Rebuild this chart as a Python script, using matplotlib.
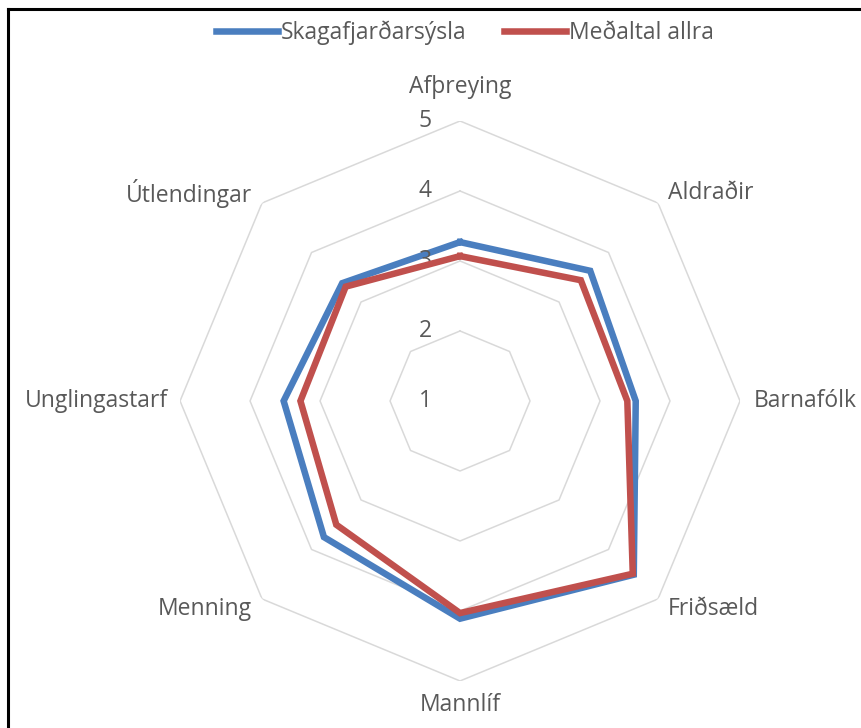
import numpy as np
import matplotlib.pyplot as plt
from matplotlib.lines import Line2D

categories = ["Afþreying", "Aldraðir", "Barnafólk", "Friðsæld",
              "Mannlíf", "Menning", "Unglingastarf", "Útlendingar"]
skagafjordur = [3.27, 3.63, 3.51, 4.51, 4.11, 3.75, 3.52, 3.38]
medaltal = [3.07, 3.44, 3.39, 4.49, 4.03, 3.50, 3.28, 3.31]
series_names = ["Skagafjarðarsýsla", "Meðaltal allra"]
levels = [1, 2, 3, 4, 5]

BLUE = "#4a7ebf"
RED = "#c0504d"
GRID = "#d9d9d9"
TEXT = "#595959"
FS = 16.5

plt.rcParams['font.family'] = ['Open Sans', 'DejaVu Sans']

fig = plt.figure(figsize=(8.61, 7.28), dpi=100)
ax = fig.add_axes([0.2091, 0.0646, 0.6504, 0.7692], projection="polar")
ax.set_theta_offset(np.pi / 2)
ax.set_theta_direction(-1)
ax.set_ylim(1, 5)
ax.grid(False)
ax.spines["polar"].set_visible(False)
ax.set_xticks([])
ax.set_yticks([])

n = len(categories)
theta = np.linspace(0, 2 * np.pi, n, endpoint=False)
theta_closed = np.append(theta, theta[0])

# octagon gridlines
for lv in levels[1:]:
    ax.plot(theta_closed, [lv] * (n + 1), color=GRID, lw=1.1, zorder=1)

# series
ax.plot(theta_closed, skagafjordur + skagafjordur[:1], color=BLUE, lw=4.7,
        solid_joinstyle="miter", zorder=3)
ax.plot(theta_closed, medaltal + medaltal[:1], color=RED, lw=4.7,
        solid_joinstyle="miter", zorder=4)

# value labels on the top axis
for lv in levels:
    ax.annotate(str(lv), xy=(0, lv), xytext=(-25, 0), textcoords="offset points",
                ha="center", va="center", fontsize=FS, color=TEXT)

# category labels
label_pos = {
    "Afþreying": (5.49, "center", "center"),
    "Aldraðir": (5.21, "left", "center"),
    "Barnafólk": (5.19, "left", "center"),
    "Friðsæld": (5.2, "left", "center"),
    "Mannlíf": (5.34, "center", "center"),
    "Menning": (5.2, "right", "center"),
    "Unglingastarf": (5.17, "right", "center"),
    "Útlendingar": (5.2, "right", "center"),
}
for t, cat in zip(theta, categories):
    r, ha, va = label_pos[cat]
    ax.text(t, r, cat, ha=ha, va=va, fontsize=FS, color=TEXT, clip_on=False)

handles = [Line2D([], [], color=BLUE, lw=4.7), Line2D([], [], color=RED, lw=4.7)]
fig.legend(handles, series_names, loc="center", bbox_to_anchor=(0.54, 0.955),
           ncol=2, frameon=False, fontsize=FS, labelcolor=TEXT,
           handlelength=2.7, handletextpad=0.13, columnspacing=1.65)

# frame lines at left and top
fig.add_artist(Line2D([8 / 861, 8 / 861], [0, 1 - 9 / 728], color="black", lw=2.2,
                      transform=fig.transFigure))
fig.add_artist(Line2D([8 / 861, 1], [1 - 9 / 728, 1 - 9 / 728], color="black", lw=2.2,
                      transform=fig.transFigure))

fig.savefig("out.png", dpi=100)
